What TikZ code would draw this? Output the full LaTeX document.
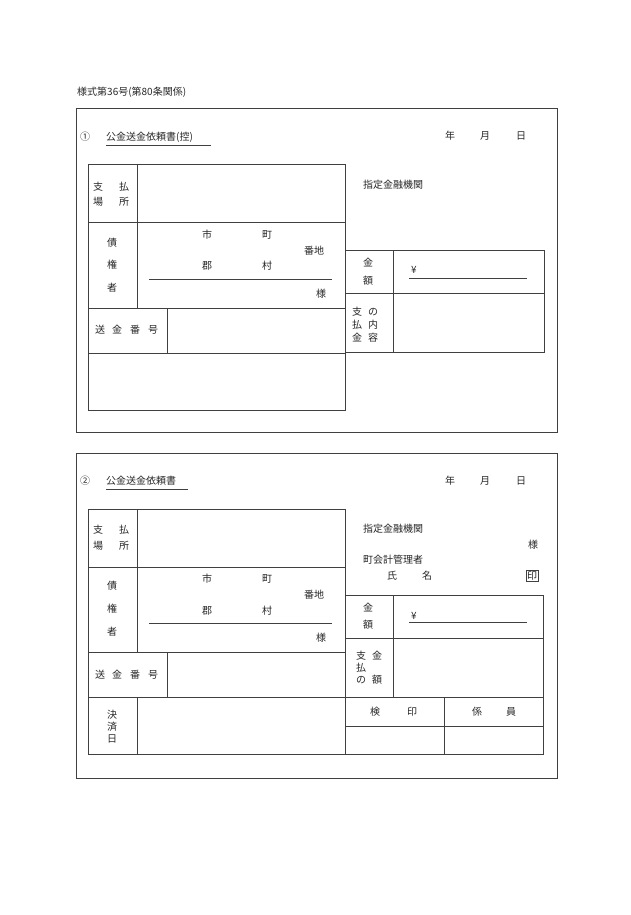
\documentclass[tikz,border=0pt]{standalone}
\usepackage{fontspec}
\newfontfamily\cjk{Noto Sans CJK JP}
\begin{document}
\begin{tikzpicture}[x=1pt,y=-1pt,
  ln/.style={draw=black!75,line width=0.8pt},
  tx/.style={font=\cjk\fontsize{10}{12}\selectfont,inner sep=0pt,text=black!85},
  tl/.style={tx,anchor=west}]
\useasboundingbox (0,0) rectangle (630,915);
\node[tl] (hdr) at (77,92) {様式第36号(第80条関係)};
% ===== Form 1 =====
\draw[ln] (76,108) rectangle (557,432);
\node[tl] (c1) at (80,137) {①};
\node[tl] (t1) at (106,137) {公金送金依頼書(控)};
\draw[ln,line width=0.6pt] (t1.south west)++(0,3) -- ++(105,0);
\foreach \n/\x in {年/450,月/485,日/521} \node[tx] at (\x,136) {\n};
\draw[ln] (88,164) rectangle (345,410);
\draw[ln] (88,222) -- (345,222) (88,308) -- (345,308) (88,353) -- (345,353);
\draw[ln] (137,164) -- (137,308) (167,308) -- (167,353);
\draw[ln] (149,279) -- (332,279);
\node[tx] at (98,187) {支}; \node[tx] at (124,187) {払};
\node[tx] at (98,202) {場}; \node[tx] at (124,202) {所};
\node[tx] at (112,243) {債}; \node[tx] at (112,265) {権}; \node[tx] at (112,288) {者};
\node[tx] at (207,235) {市}; \node[tx] at (267,235) {町};
\node[tx] at (314,251) {番地};
\node[tx] at (207,266) {郡}; \node[tx] at (267,266) {村};
\node[tx] at (321,294) {様};
\foreach \n/\x in {送/100,金/117,番/135,号/153} \node[tx] at (\x,330) {\n};
\node[tl] (b1) at (363,185) {指定金融機関};
\draw[ln] (345,250) rectangle (544,352);
\draw[ln] (345,293) -- (544,293) (393,250) -- (393,352);
\node[tx] at (368,263) {金}; \node[tx] at (368,281) {額};
\node[tx] at (414,270) {¥};
\draw[ln] (409,278) -- (527,278);
\node[tx] at (357,312) {支}; \node[tx] at (357,325) {払}; \node[tx] at (357,338) {金};
\node[tx] at (373,312) {の}; \node[tx] at (373,325) {内}; \node[tx] at (373,338) {容};
% ===== Form 2 =====
\draw[ln] (76,453) rectangle (557,778);
\node[tl] (c2) at (80,481) {②};
\node[tl] (t2) at (106,481) {公金送金依頼書};
\draw[ln,line width=0.6pt] (t2.south west)++(0,3) -- ++(82,0);
\foreach \n/\x in {年/450,月/485,日/521} \node[tx] at (\x,481) {\n};
\draw[ln] (88,509) rectangle (345,754);
\draw[ln] (88,567) -- (345,567) (88,652) -- (345,652) (88,697) -- (345,697);
\draw[ln] (137,509) -- (137,652) (167,652) -- (167,697) (137,697) -- (137,754);
\draw[ln] (149,623) -- (332,623);
\node[tx] at (98,530) {支}; \node[tx] at (124,530) {払};
\node[tx] at (98,546) {場}; \node[tx] at (124,546) {所};
\node[tx] at (112,586) {債}; \node[tx] at (112,609) {権}; \node[tx] at (112,632) {者};
\node[tx] at (207,579) {市}; \node[tx] at (267,579) {町};
\node[tx] at (314,595) {番地};
\node[tx] at (207,611) {郡}; \node[tx] at (267,611) {村};
\node[tx] at (321,638) {様};
\foreach \n/\x in {送/100,金/117,番/135,号/153} \node[tx] at (\x,675) {\n};
\node[tx] at (112,715) {決}; \node[tx] at (112,727) {済}; \node[tx] at (112,739) {日};
\node[tl] (b2) at (363,529) {指定金融機関};
\node[tx] at (533,545) {様};
\node[tl] (m2) at (363,560) {町会計管理者};
\node[tx] at (392,576) {氏}; \node[tx] at (427,576) {名};
\node[tx,draw=black!75,line width=0.6pt,inner sep=1pt] (in) at (532,576) {印};
\draw[ln] (345,595) rectangle (543,754);
\draw[ln] (345,638) -- (543,638) (345,697) -- (543,697) (393,595) -- (393,697);
\draw[ln] (444,697) -- (444,754) (345,726) -- (543,726);
\node[tx] at (368,608) {金}; \node[tx] at (368,625) {額};
\node[tx] at (414,616) {¥};
\draw[ln] (409,622) -- (527,622);
\node[tx] at (361,656) {支}; \node[tx] at (361,668) {払}; \node[tx] at (361,680) {の};
\node[tx] at (377,656) {金}; \node[tx] at (377,680) {額};
\node[tx] at (375,712) {検}; \node[tx] at (412,712) {印};
\node[tx] at (477,712) {係}; \node[tx] at (511,712) {員};
\end{tikzpicture}
\end{document}
